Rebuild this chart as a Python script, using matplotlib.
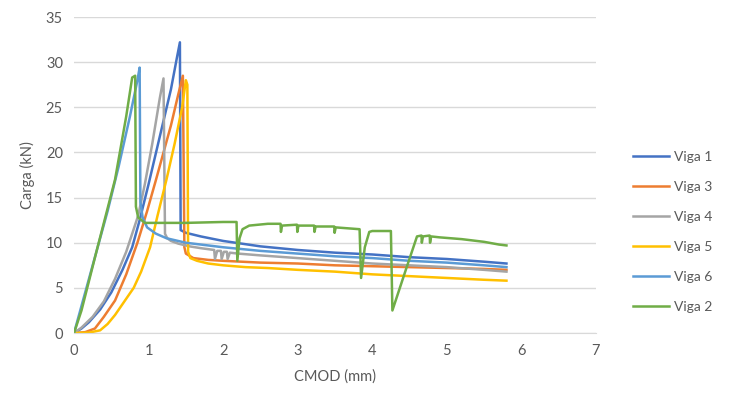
import matplotlib.pyplot as plt

plt.rcParams['font.family'] = ['Lato', 'DejaVu Sans']

# Viga 1
x1 = [0, 0.1, 0.2, 0.35, 0.5, 0.65, 0.78, 0.88, 1.0, 1.1, 1.2, 1.3, 1.38, 1.42, 1.43, 1.5,
      1.7, 2.0, 2.5, 3.0, 3.5, 4.0, 4.5, 5.0, 5.5, 5.8]
y1 = [0, 0.5, 1.2, 2.6, 4.5, 7, 9.5, 12.5, 16.5, 20, 23.5, 27, 30.5, 32.2, 11.4, 11.1,
      10.7, 10.2, 9.6, 9.2, 8.9, 8.7, 8.4, 8.2, 7.9, 7.7]

# Viga 3
x3 = [0, 0.15, 0.28, 0.4, 0.55, 0.7, 0.85, 0.98, 1.1, 1.2, 1.3, 1.4, 1.46, 1.48, 1.5, 1.6,
      1.8, 2.0, 2.5, 3.0, 3.5, 4.0, 4.5, 5.0, 5.5, 5.8]
y3 = [0, 0.1, 0.5, 1.8, 3.6, 6.5, 10, 13.5, 17, 20, 23, 26.5, 28.5, 9.5, 8.8, 8.3,
      8.1, 8.0, 7.8, 7.7, 7.5, 7.4, 7.3, 7.2, 7.1, 7.0]

# Viga 4
x4 = [0, 0.1, 0.25, 0.4, 0.55, 0.7, 0.86, 0.95, 1.05, 1.15, 1.2, 1.22, 1.25, 1.3, 1.4, 1.55,
      1.7, 1.88, 1.89, 1.92, 1.97, 1.98, 2.01, 2.05, 2.06, 2.09, 2.2, 2.5, 3.0, 3.5, 4.0,
      4.5, 5.0, 5.5, 5.8]
y4 = [0, 0.6, 1.8, 3.5, 6, 9, 13, 16.5, 21, 26, 28.2, 11, 10.5, 10.2, 9.9, 9.6,
      9.4, 9.2, 8.2, 9.1, 9.1, 8.2, 9.0, 9.0, 8.2, 8.9, 8.8, 8.6, 8.3, 8.0, 7.7,
      7.5, 7.3, 7.0, 6.8]

# Viga 5
x5 = [0, 0.2, 0.35, 0.45, 0.55, 0.65, 0.8, 0.9, 1.02, 1.12, 1.24, 1.35, 1.45, 1.5, 1.52,
      1.53, 1.56, 1.65, 1.8, 2.0, 2.3, 2.6, 3.0, 3.5, 4.0, 4.5, 5.0, 5.5, 5.8]
y5 = [0, 0.05, 0.3, 1.0, 2.0, 3.2, 5.0, 6.8, 9.5, 13, 17, 21, 25, 28, 27.5,
      9, 8.3, 8.0, 7.7, 7.5, 7.3, 7.2, 7.0, 6.8, 6.5, 6.3, 6.1, 5.9, 5.8]

# Viga 6
x6 = [0, 0.05, 0.15, 0.3, 0.45, 0.6, 0.75, 0.85, 0.88, 0.89, 0.92, 0.98, 1.1, 1.24, 1.5,
      1.7, 2.0, 2.5, 3.0, 3.5, 4.0, 4.5, 5.0, 5.5, 5.8]
y6 = [0, 1.5, 4.5, 9, 13.5, 18.5, 24, 28, 29.4, 14.5, 12.8, 11.7, 11, 10.5, 10.0,
      9.8, 9.5, 9.1, 8.8, 8.5, 8.3, 8.0, 7.8, 7.5, 7.3]

# Viga 2
x2 = [0, 0.1, 0.3, 0.55, 0.7, 0.78, 0.82, 0.83, 0.86, 0.95, 1.5, 2.0, 2.18, 2.19, 2.22,
      2.26, 2.35, 2.6, 2.77, 2.775, 2.79, 2.99, 2.995, 3.01, 3.22, 3.225, 3.24, 3.49, 3.495,
      3.51, 3.83, 3.85, 3.9, 3.96, 4.0, 4.25, 4.27, 4.45, 4.6, 4.66, 4.665, 4.68, 4.77,
      4.775, 4.79, 4.9, 5.2, 5.5, 5.7, 5.8]
y2 = [0, 2.5, 9, 17, 24, 28.3, 28.5, 14, 12.8, 12.2, 12.2, 12.3, 12.3, 8.0, 10.5,
      11.5, 11.9, 12.1, 12.1, 11.2, 11.9, 12.0, 11.2, 11.9, 11.9, 11.2, 11.8, 11.8, 11.1,
      11.7, 11.5, 6.1, 9.5, 11.2, 11.3, 11.3, 2.5, 7.0, 10.7, 10.8, 10.0, 10.7, 10.8,
      10.0, 10.7, 10.6, 10.4, 10.1, 9.8, 9.7]

series = [
    (x1, y1, 'Viga 1', '#4472C4'),
    (x3, y3, 'Viga 3', '#ED7D31'),
    (x4, y4, 'Viga 4', '#A5A5A5'),
    (x5, y5, 'Viga 5', '#FFC000'),
    (x6, y6, 'Viga 6', '#5B9BD5'),
    (x2, y2, 'Viga 2', '#70AD47'),
]

fig = plt.figure(figsize=(7.33, 3.96), dpi=100)
ax = fig.add_axes([0.101, 0.159, 0.712, 0.798])

for xs, ys, lab, col in series:
    ax.plot(xs, ys, color=col, label=lab, linewidth=1.8)

ax.set_xlim(0, 7)
ax.set_ylim(0, 35)
ax.set_xticks(range(0, 8))
ax.set_yticks(range(0, 36, 5))
ax.grid(axis='y', color='#D9D9D9', linewidth=1)
ax.set_axisbelow(True)
for s in ['top', 'right', 'left']:
    ax.spines[s].set_visible(False)
ax.spines['bottom'].set_color('#D9D9D9')
ax.tick_params(length=0, labelsize=10.5, labelcolor='#595959', pad=8)
ax.set_xlabel('CMOD (mm)', fontsize=10.5, color='#595959', labelpad=8)
ax.set_ylabel('Carga (kN)', fontsize=10.5, color='#595959', labelpad=8)

fig.legend(loc='center left', bbox_to_anchor=(0.847, 0.414), frameon=False,
           fontsize=10, labelcolor='#595959', handlelength=2.6, handletextpad=0.3,
           labelspacing=1.3)

fig.savefig('out.png', dpi=100)
